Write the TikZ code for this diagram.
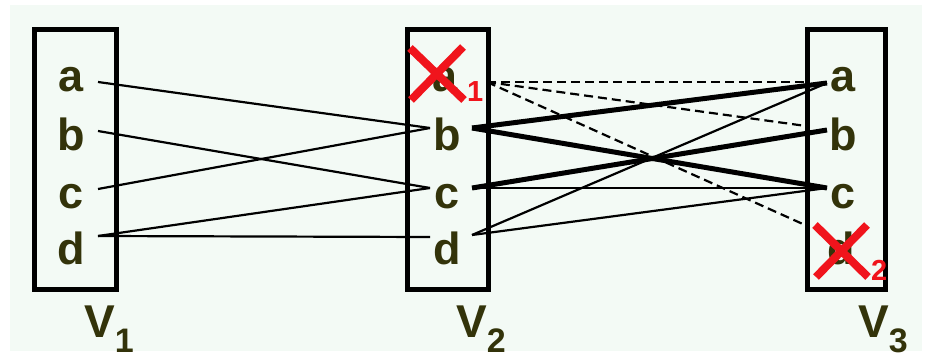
\documentclass[tikz,border=0pt]{standalone}
\usepackage{fontspec}
\setmainfont{Liberation Sans}
\definecolor{letter}{HTML}{33330A}
\definecolor{mint}{HTML}{F3FAF5}
\definecolor{cross}{HTML}{F0141C}
\tikzset{
  lbl/.style={anchor=base, text=letter, font=\fontsize{45}{45}\selectfont\bfseries, inner sep=0pt},
  setbox/.style={draw=black, line width=5pt},
  thin/.style={draw=black, line width=2.2pt},
  heavy/.style={draw=black, line width=5pt},
  broken/.style={draw=black, line width=2.2pt, dash pattern=on 9pt off 5pt},
  redx/.style={draw=cross, line width=8pt},
  redsub/.style={anchor=base west, text=cross, inner sep=0pt, font=\fontsize{29}{29}\selectfont\bfseries},
}
\newcommand{\setname}[1]{{\fontsize{46}{46}\selectfont\bfseries V}{\fontsize{34}{34}\selectfont\raisebox{-15pt}{#1}}}
\begin{document}
\begin{tikzpicture}[x=1pt,y=-1pt]
    \useasboundingbox (0,0) rectangle (927,361);
    \fill[white] (0,0) rectangle (927,361);
    \fill[mint] (10,5) rectangle (922,351);

    % the three sets
    \draw[setbox] (34.5,29.5) rectangle (116.5,289.5);
    \draw[setbox] (407.5,29.5) rectangle (488.5,289.5);
    \draw[setbox] (807.5,29.5) rectangle (885.5,289.5);

    \node[lbl, anchor=base west] (s1) at (84,337) {\setname{1}};
    \node[lbl, anchor=base west] (s2) at (456,337) {\setname{2}};
    \node[lbl, anchor=base west] (s3) at (858,337) {\setname{3}};

    % letters of V1
    \node[lbl] (n1a) at (71,92) {a};
    \node[lbl] (n1b) at (71,150) {b};
    \node[lbl] (n1c) at (71,208) {c};
    \node[lbl] (n1d) at (71,264) {d};
    % letters of V2
    \node[lbl] (n2a) at (445,92) {a};
    \node[lbl] (n2b) at (447,150) {b};
    \node[lbl] (n2c) at (447,208) {c};
    \node[lbl] (n2d) at (447,264) {d};
    % letters of V3
    \node[lbl] (n3a) at (843,92) {a};
    \node[lbl] (n3b) at (843,150) {b};
    \node[lbl] (n3c) at (843,208) {c};
    \node[lbl] (n3d) at (841,264) {d};

    % ports
    \coordinate (v1a) at (98,82);
    \coordinate (v1b) at (98,131);
    \coordinate (v1c) at (98,189);
    \coordinate (v1d) at (98,236);
    \coordinate (w2b) at (430,128);
    \coordinate (w2c) at (430,188);
    \coordinate (w2d) at (430,237);
    \coordinate (v2a) at (487,82);
    \coordinate (v2b) at (472,128);
    \coordinate (v2c) at (472,188);
    \coordinate (v2d) at (472,235);
    \coordinate (v3a) at (827,83);
    \coordinate (v3b) at (827,130);
    \coordinate (v3c) at (827,188);
    \coordinate (e3a) at (810,82);
    \coordinate (e3b) at (806,126);
    \coordinate (e3d) at (805,225);

    % V1 -- V2
    \draw[thin] (v1a) -- (w2b);
    \draw[thin] (v1b) -- (w2c);
    \draw[thin] (v1c) -- (w2b);
    \draw[thin] (v1d) -- (w2c);
    \draw[thin] (v1d) -- (w2d);

    % V2 -- V3
    \draw[broken] (v2a) -- (e3a);
    \draw[broken] (v2a) -- (e3b);
    \draw[broken] (v2a) -- (e3d);
    \draw[heavy] (v2b) -- (v3a);
    \draw[heavy] (v2b) -- (v3c);
    \draw[heavy] (v2c) -- (v3b);
    \draw[thin] (v2c) -- (v3c);
    \draw[thin] (v2d) -- (v3a);
    \draw[thin] (v2d) -- (v3c);

    % removed vertices
    \draw[redx] (410,48) -- (464,100) (463,47) -- (411,100);
    \node[redsub] (r1) at (467,102) {1};
    \draw[redx] (815,225) -- (868,277) (867,225) -- (816,277);
    \node[redsub] (r2) at (871,280) {2};
\end{tikzpicture}
\end{document}
